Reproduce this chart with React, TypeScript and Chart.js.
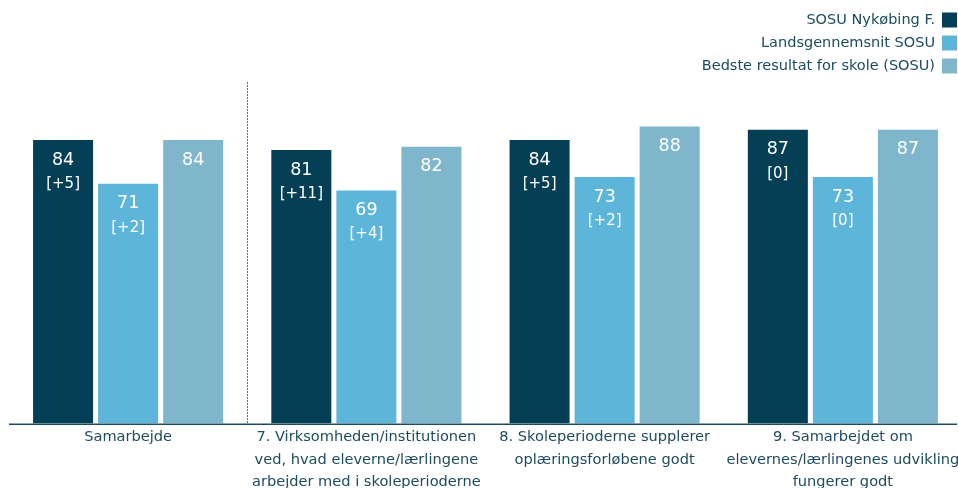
import React, { useEffect, useRef } from "react";
import { Chart, registerables } from "chart.js";

Chart.register(...registerables);

const categories: string[][] = [
  ["Samarbejde"],
  ["7. Virksomheden/institutionen", "ved, hvad eleverne/lærlingene", "arbejder med i skoleperioderne"],
  ["8. Skoleperioderne supplerer", "oplæringsforløbene godt"],
  ["9. Samarbejdet om", "elevernes/lærlingenes udvikling", "fungerer godt"],
];
const seriesNames = ["SOSU Nykøbing F.", "Landsgennemsnit SOSU", "Bedste resultat for skole (SOSU)"];
const schoolValues = [84, 81, 84, 87];
const nationalValues = [71, 69, 73, 73];
const bestValues = [84, 82, 88, 87];
const schoolDiffs = ["[+5]", "[+11]", "[+5]", "[0]"];
const nationalDiffs = ["[+2]", "[+4]", "[+2]", "[0]"];
const bestDiffs: (string | null)[] = [null, null, null, null];
const colors = ["#053f56", "#5eb5da", "#7fb6cb"];
const textColor = "#1d4b5e";
const FONT = "'DejaVu Sans', Verdana, sans-serif";

export default function App() {
  const ref = useRef<HTMLCanvasElement | null>(null);
  useEffect(() => {
    document.body.style.margin = "0";
    document.body.style.overflow = "hidden";
    const diffs = [schoolDiffs, nationalDiffs, bestDiffs];
    const labelPlugin = {
      id: "barLabels",
      afterDatasetsDraw(chart: any) {
        const ctx = chart.ctx;
        ctx.save();
        ctx.fillStyle = "#ffffff";
        ctx.textAlign = "center";
        ctx.textBaseline = "middle";
        chart.data.datasets.forEach((ds: any, di: number) => {
          const meta = chart.getDatasetMeta(di);
          meta.data.forEach((bar: any, i: number) => {
            ctx.font = `17.5px ${FONT}`;
            ctx.fillText(String(ds.data[i]), bar.x, bar.y + 20);
            const d = diffs[di][i];
            if (d) {
              ctx.font = `15px ${FONT}`;
              ctx.fillText(d, bar.x, bar.y + 44);
            }
          });
        });
        ctx.restore();
      },
    };
    const extrasPlugin = {
      id: "extras",
      afterDraw(chart: any) {
        const ctx = chart.ctx;
        const xs = chart.scales.x;
        const area = chart.chartArea;
        ctx.save();
        // axis line
        ctx.strokeStyle = "#1f4a5f";
        ctx.lineWidth = 1.5;
        ctx.beginPath();
        ctx.moveTo(9, area.bottom + 0.75);
        ctx.lineTo(957, area.bottom + 0.75);
        ctx.stroke();
        // dotted separator
        const sx = Math.round((xs.getPixelForValue(0) + xs.getPixelForValue(1)) / 2) + 0.5;
        ctx.strokeStyle = "#6e6e6e";
        ctx.lineWidth = 1;
        ctx.setLineDash([2, 1]);
        ctx.beginPath();
        ctx.moveTo(sx, area.top - 4);
        ctx.lineTo(sx, area.bottom);
        ctx.stroke();
        ctx.setLineDash([]);
        // legend
        ctx.font = `14.5px ${FONT}`;
        ctx.textAlign = "right";
        ctx.textBaseline = "middle";
        seriesNames.forEach((name, i) => {
          const cy = 20 + i * 23;
          ctx.fillStyle = colors[i];
          ctx.fillRect(942, cy - 7.5, 15, 15);
          ctx.fillStyle = textColor;
          ctx.fillText(name, 935, cy);
        });
        ctx.restore();
      },
    };
    const chart = new Chart(ref.current as HTMLCanvasElement, {
      type: "bar",
      data: {
        labels: categories,
        datasets: [
          { label: seriesNames[0], data: schoolValues, backgroundColor: colors[0] },
          { label: seriesNames[1], data: nationalValues, backgroundColor: colors[1] },
          { label: seriesNames[2], data: bestValues, backgroundColor: colors[2] },
        ],
      },
      options: {
        animation: false,
        responsive: true,
        maintainAspectRatio: false,
        layout: { padding: { top: 86, left: 9, right: 0, bottom: 0 } },
        datasets: { bar: { categoryPercentage: 0.819, barPercentage: 0.923 } },
        plugins: { legend: { display: false }, tooltip: { enabled: false } },
        scales: {
          x: {
            grid: { display: false, drawTicks: false },
            border: { display: false },
            afterFit: (scale: any) => {
              scale.paddingLeft = 0;
              scale.paddingRight = 0;
            },
            ticks: {
              color: textColor,
              font: { family: FONT, size: 14.6, lineHeight: 1.52 },
              padding: 3,
              maxRotation: 0,
              autoSkip: false,
            },
          },
          y: { display: false, min: 0, max: 100 },
        },
      },
      plugins: [labelPlugin, extrasPlugin],
    });
    return () => chart.destroy();
  }, []);
  return (
    <div style={{ position: "fixed", left: 0, top: 0, width: 958, height: 488, overflow: "hidden" }}>
      <div style={{ position: "absolute", left: 0, top: 0, width: 962, height: 496 }}>
        <canvas ref={ref} />
      </div>
    </div>
  );
}
